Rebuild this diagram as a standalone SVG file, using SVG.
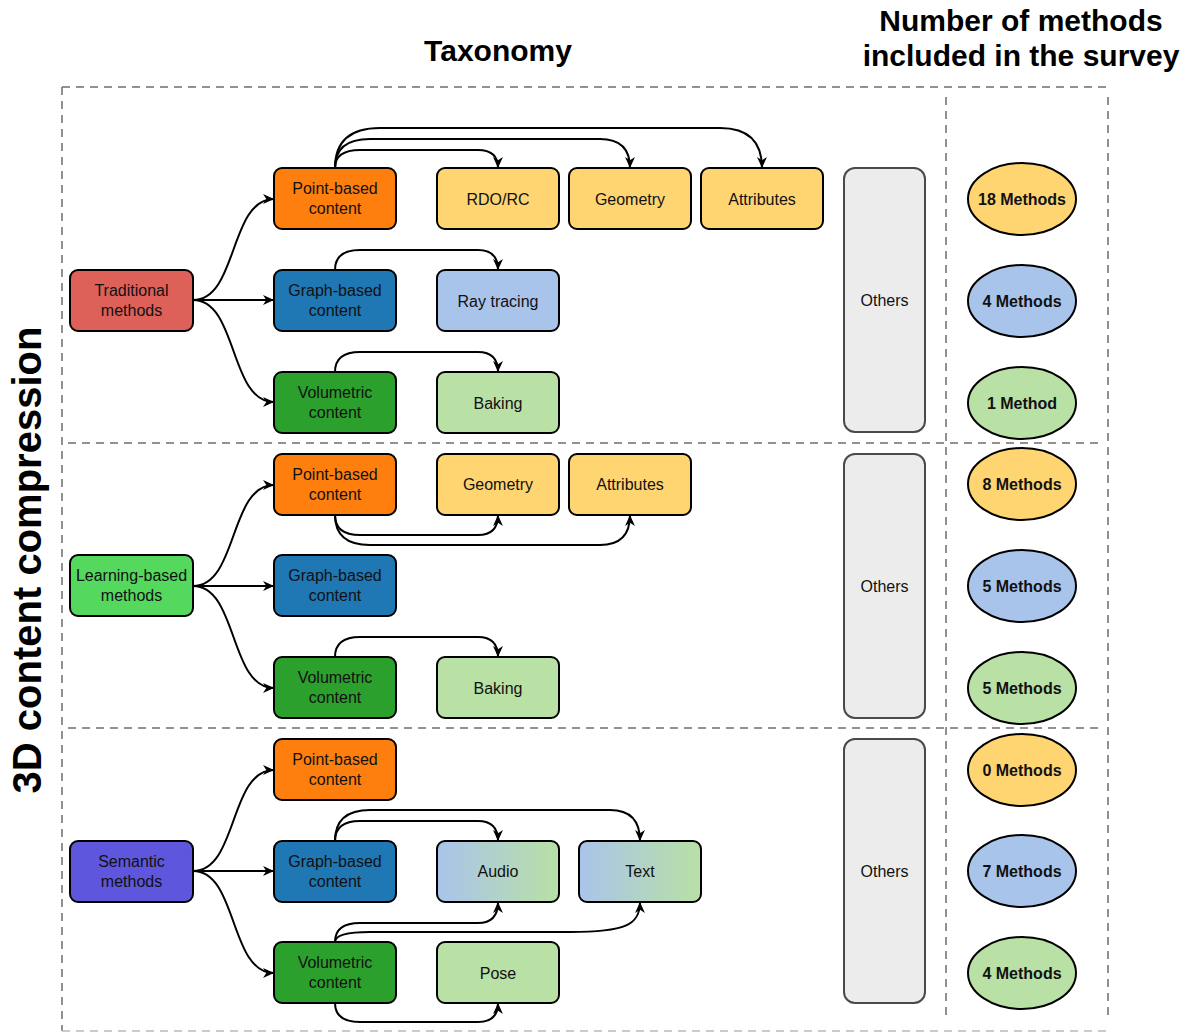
<svg xmlns="http://www.w3.org/2000/svg" width="1193" height="1034" viewBox="0 0 1193 1034">
<defs>
<style>
.n{stroke:#000;stroke-width:2}
.t{font-family:"Liberation Sans",Arial,sans-serif;font-size:16px;fill:#111;text-anchor:middle}
.b{font-family:"Liberation Sans",Arial,sans-serif;font-size:16px;font-weight:bold;fill:#111;text-anchor:middle}
.h{font-family:"Liberation Sans",Arial,sans-serif;font-size:30px;font-weight:bold;fill:#000;text-anchor:middle}
.d{stroke:#6e6e6e;stroke-width:1.5;stroke-dasharray:8 6;fill:none}
.c{fill:none;stroke:#000;stroke-width:2;marker-end:url(#ah)}
.oth{fill:#ececec;stroke:#4a4a4a;stroke-width:2}
.red{fill:#dd6059}.lrn{fill:#55d85e}.sem{fill:#5e56dc}
.pb{fill:#ff7f0e}.gb{fill:#1f77b4}.vo{fill:#2ca02c}
.ye{fill:#ffd572}.lb{fill:#a9c4eb}.lg{fill:#b9e0a5}.gr{fill:url(#grad)}
</style>
<linearGradient id="grad" x1="0" y1="0" x2="1" y2="0">
<stop offset="0" stop-color="#a9c4eb"/><stop offset="1" stop-color="#b9e0a5"/>
</linearGradient>
<marker id="ah" viewBox="0 0 10 10" refX="10" refY="5" markerWidth="11" markerHeight="11" markerUnits="userSpaceOnUse" orient="auto">
<path d="M0,0.5 L10,5 L0,9.5 L3,5 Z" fill="#000"/>
</marker>
</defs>

<g id="frame">
<line class="d" x1="62" y1="87" x2="1108" y2="87"/>
<line class="d" x1="62" y1="87" x2="62" y2="1031"/>
<line class="d" x1="62" y1="1031" x2="1108" y2="1031" style="stroke:#bbb"/>
<line class="d" x1="946" y1="97" x2="946" y2="1020"/>
<line class="d" x1="1108" y1="97" x2="1108" y2="1020"/>
<line class="d" x1="68" y1="443" x2="1100" y2="443"/>
<line class="d" x1="68" y1="728" x2="1100" y2="728"/>
</g>

<g id="titles">
<text class="h" x="498" y="61">Taxonomy</text>
<text class="h" x="1021" y="31">Number of methods</text>
<text class="h" x="1021" y="66">included in the survey</text>
<text class="h" style="font-size:40px" transform="translate(41,560) rotate(-90)">3D content compression</text>
</g>

<g id="connectors">
<path class="c" d="M193,300 C238,300 229,199 274,199"/>
<path class="c" d="M193,300 L274,300"/>
<path class="c" d="M193,300 C238,300 229,402 274,402"/>
<path class="c" d="M335,168 Q335,150 360,150 L478,150 Q498,150 498,168"/>
<path class="c" d="M335,168 Q335,139 370,139 L600,139 Q630,139 630,168"/>
<path class="c" d="M335,168 Q335,128 380,128 L720,128 Q762,128 762,168"/>
<path class="c" d="M335,270 Q335,250 360,250 L478,250 Q498,250 498,270"/>
<path class="c" d="M335,372 Q335,352 360,352 L478,352 Q498,352 498,372"/>

<path class="c" d="M193,586 C238,586 229,485 274,485"/>
<path class="c" d="M193,586 L274,586"/>
<path class="c" d="M193,586 C238,586 229,688 274,688"/>
<path class="c" d="M335,515 Q335,535 360,535 L478,535 Q498,535 498,515"/>
<path class="c" d="M335,515 Q335,545 370,545 L600,545 Q630,545 630,515"/>
<path class="c" d="M335,657 Q335,637 360,637 L478,637 Q498,637 498,657"/>

<path class="c" d="M193,871 C238,871 229,770 274,770"/>
<path class="c" d="M193,871 L274,871"/>
<path class="c" d="M193,871 C238,871 229,973 274,973"/>
<path class="c" d="M335,841 Q335,821 360,821 L478,821 Q498,821 498,841"/>
<path class="c" d="M335,841 Q335,810 370,810 L610,810 Q640,810 640,841"/>
<path class="c" d="M335,942 Q335,923 360,923 L478,923 Q498,923 498,902"/>
<path class="c" d="M335,942 Q335,932 370,932 L570,932 C625,932 640,925 640,902"/>
<path class="c" d="M335,1003 Q335,1022 360,1022 L478,1022 Q498,1022 498,1003"/>
</g>

<!-- Traditional section -->
<g id="trad"><rect class="n red" x="70" y="270" width="123" height="61" rx="8"/><text class="t" x="131.5" y="296">Traditional</text><text class="t" x="131.5" y="316">methods</text></g>
<g id="t_pb"><rect class="n pb" x="274" y="168" width="122" height="61" rx="8"/><text class="t" x="335" y="194">Point-based</text><text class="t" x="335" y="214">content</text></g>
<g id="t_gb"><rect class="n gb" x="274" y="270" width="122" height="61" rx="8"/><text class="t" x="335" y="296">Graph-based</text><text class="t" x="335" y="316">content</text></g>
<g id="t_vo"><rect class="n vo" x="274" y="372" width="122" height="61" rx="8"/><text class="t" x="335" y="398">Volumetric</text><text class="t" x="335" y="418">content</text></g>
<g id="t_rdo"><rect class="n ye" x="437" y="168" width="122" height="61" rx="8"/><text class="t" x="498" y="205">RDO/RC</text></g>
<g id="t_geo"><rect class="n ye" x="569" y="168" width="122" height="61" rx="8"/><text class="t" x="630" y="205">Geometry</text></g>
<g id="t_att"><rect class="n ye" x="701" y="168" width="122" height="61" rx="8"/><text class="t" x="762" y="205">Attributes</text></g>
<g id="t_ray"><rect class="n lb" x="437" y="270" width="122" height="61" rx="8"/><text class="t" x="498" y="307">Ray tracing</text></g>
<g id="t_bak"><rect class="n lg" x="437" y="372" width="122" height="61" rx="8"/><text class="t" x="498" y="409">Baking</text></g>
<g id="t_oth"><rect class="oth" x="844" y="168" width="81" height="264" rx="11"/><text class="t" x="884.5" y="306">Others</text></g>
<g id="t_n1"><ellipse class="n ye" cx="1022" cy="199" rx="54" ry="36"/><text class="b" x="1022" y="205">18 Methods</text></g>
<g id="t_n2"><ellipse class="n lb" cx="1022" cy="301" rx="54" ry="36"/><text class="b" x="1022" y="307">4 Methods</text></g>
<g id="t_n3"><ellipse class="n lg" cx="1022" cy="403" rx="54" ry="36"/><text class="b" x="1022" y="409">1 Method</text></g>

<!-- Learning section -->
<g id="lrn"><rect class="n lrn" x="70" y="555" width="123" height="61" rx="8"/><text class="t" x="131.5" y="581">Learning-based</text><text class="t" x="131.5" y="601">methods</text></g>
<g id="l_pb"><rect class="n pb" x="274" y="454" width="122" height="61" rx="8"/><text class="t" x="335" y="480">Point-based</text><text class="t" x="335" y="500">content</text></g>
<g id="l_gb"><rect class="n gb" x="274" y="555" width="122" height="61" rx="8"/><text class="t" x="335" y="581">Graph-based</text><text class="t" x="335" y="601">content</text></g>
<g id="l_vo"><rect class="n vo" x="274" y="657" width="122" height="61" rx="8"/><text class="t" x="335" y="683">Volumetric</text><text class="t" x="335" y="703">content</text></g>
<g id="l_geo"><rect class="n ye" x="437" y="454" width="122" height="61" rx="8"/><text class="t" x="498" y="490">Geometry</text></g>
<g id="l_att"><rect class="n ye" x="569" y="454" width="122" height="61" rx="8"/><text class="t" x="630" y="490">Attributes</text></g>
<g id="l_bak"><rect class="n lg" x="437" y="657" width="122" height="61" rx="8"/><text class="t" x="498" y="694">Baking</text></g>
<g id="l_oth"><rect class="oth" x="844" y="454" width="81" height="264" rx="11"/><text class="t" x="884.5" y="592">Others</text></g>
<g id="l_n1"><ellipse class="n ye" cx="1022" cy="484" rx="54" ry="36"/><text class="b" x="1022" y="490">8 Methods</text></g>
<g id="l_n2"><ellipse class="n lb" cx="1022" cy="586" rx="54" ry="36"/><text class="b" x="1022" y="592">5 Methods</text></g>
<g id="l_n3"><ellipse class="n lg" cx="1022" cy="688" rx="54" ry="36"/><text class="b" x="1022" y="694">5 Methods</text></g>

<!-- Semantic section -->
<g id="sem"><rect class="n sem" x="70" y="841" width="123" height="61" rx="8"/><text class="t" x="131.5" y="867">Semantic</text><text class="t" x="131.5" y="887">methods</text></g>
<g id="s_pb"><rect class="n pb" x="274" y="739" width="122" height="61" rx="8"/><text class="t" x="335" y="765">Point-based</text><text class="t" x="335" y="785">content</text></g>
<g id="s_gb"><rect class="n gb" x="274" y="841" width="122" height="61" rx="8"/><text class="t" x="335" y="867">Graph-based</text><text class="t" x="335" y="887">content</text></g>
<g id="s_vo"><rect class="n vo" x="274" y="942" width="122" height="61" rx="8"/><text class="t" x="335" y="968">Volumetric</text><text class="t" x="335" y="988">content</text></g>
<g id="s_aud"><rect class="n gr" x="437" y="841" width="122" height="61" rx="8"/><text class="t" x="498" y="877">Audio</text></g>
<g id="s_txt"><rect class="n gr" x="579" y="841" width="122" height="61" rx="8"/><text class="t" x="640" y="877">Text</text></g>
<g id="s_pose"><rect class="n lg" x="437" y="942" width="122" height="61" rx="8"/><text class="t" x="498" y="979">Pose</text></g>
<g id="s_oth"><rect class="oth" x="844" y="739" width="81" height="264" rx="11"/><text class="t" x="884.5" y="877">Others</text></g>
<g id="s_n1"><ellipse class="n ye" cx="1022" cy="770" rx="54" ry="36"/><text class="b" x="1022" y="776">0 Methods</text></g>
<g id="s_n2"><ellipse class="n lb" cx="1022" cy="871" rx="54" ry="36"/><text class="b" x="1022" y="877">7 Methods</text></g>
<g id="s_n3"><ellipse class="n lg" cx="1022" cy="973" rx="54" ry="36"/><text class="b" x="1022" y="979">4 Methods</text></g>
</svg>
